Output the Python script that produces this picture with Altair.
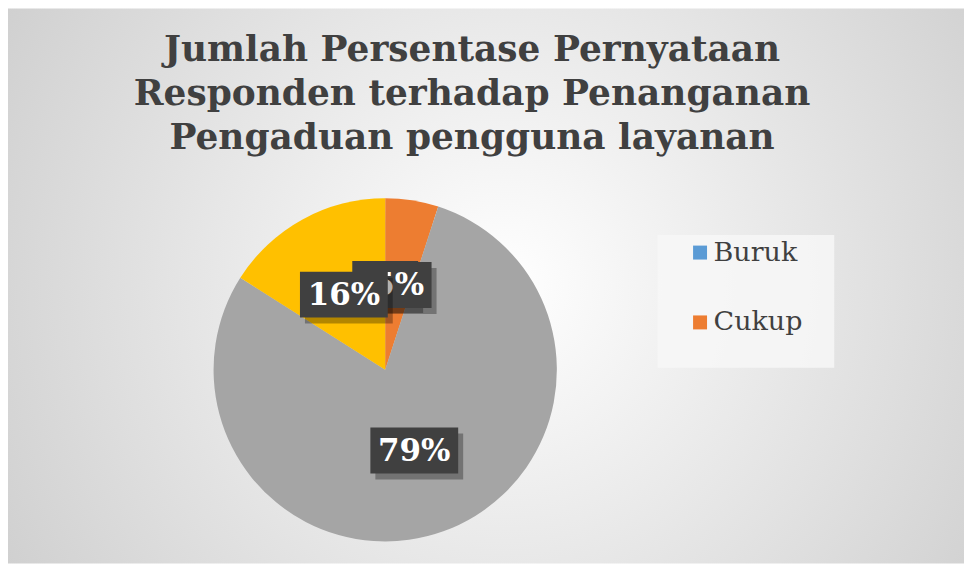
import math
import altair as alt
import pandas as pd

CATEGORIES = ["Buruk", "Cukup", "Baik", "Sangat Baik"]
VALUES = [0, 5, 79, 16]
LABELS = ["0%", "5%", "79%", "16%"]
COLORS = ["#5B9BD5", "#ED7D31", "#A5A5A5", "#FFC000"]
LEGEND_SHOWN = ["Buruk", "Cukup"]
TITLE_LINES = [
    "Jumlah Persentase Pernyataan",
    "Responden terhadap Penanganan",
    "Pengaduan pengguna layanan",
]

W, H = 958, 556
CX, CY, R, LR = 378, 362, 172, 86
SERIF = "DejaVu Serif"

df = pd.DataFrame({
    "idx": list(range(len(CATEGORIES))),
    "cat": CATEGORIES,
    "val": VALUES,
    "label": LABELS,
})
one = pd.DataFrame({"a": [1]})

bg_grad = alt.Gradient(
    gradient="radial",
    stops=[alt.GradientStop(color="#ffffff", offset=0),
           alt.GradientStop(color="#c4c4c4", offset=1)],
    x1=0.52, y1=0.5, r1=0, x2=0.52, y2=0.5, r2=0.75,
)
background = alt.Chart(one).mark_rect(fill=bg_grad).encode(
    x=alt.value(0), x2=alt.value(W), y=alt.value(0), y2=alt.value(H)
)

legend_box = alt.Chart(one).mark_rect(fill="#f7f7f7", opacity=0.85).encode(
    x=alt.value(651), x2=alt.value(828), y=alt.value(227), y2=alt.value(360)
)

shadows = [
    alt.Chart(one).mark_circle(size=math.pi * (R + d) ** 2, color="black",
                               opacity=0.035, stroke=None).encode(
        x=alt.value(CX), y=alt.value(CY + 6)
    )
    for d in (2, 5, 9, 14)
]

pie = alt.Chart(df).mark_arc(radius=R).encode(
    theta=alt.Theta("val:Q", stack=True),
    order=alt.Order("idx:Q"),
    color=alt.Color(
        "cat:N",
        scale=alt.Scale(domain=CATEGORIES, range=COLORS),
        legend=alt.Legend(
            values=LEGEND_SHOWN, orient="none", legendX=680, legendY=231,
            title=None, symbolType="square", symbolSize=196, symbolStrokeWidth=0,
            labelFont=SERIF, labelFontSize=27, labelColor="#404040",
            rowPadding=42, labelOffset=0,
        ),
    ),
    x=alt.value(CX), y=alt.value(CY),
)

base = (
    alt.Chart(df)
    .transform_joinaggregate(total="sum(val)")
    .transform_window(cum="sum(val)", sort=[alt.SortField("idx")], frame=[None, 0])
    .transform_calculate(
        mid="2*PI*(datum.cum - datum.val/2)/datum.total",
        lx=f"{CX} + {LR}*sin(datum.mid)",
        ly=f"{CY} - {LR}*cos(datum.mid)",
        bw="22*length(datum.label) + 22",
    )
    .transform_calculate(
        x1="datum.lx - datum.bw/2", x2="datum.lx + datum.bw/2",
        y1="datum.ly - 23", y2="datum.ly + 23",
        sx1="datum.lx - datum.bw/2 + 5", sx2="datum.lx + datum.bw/2 + 5",
        sy1="datum.ly - 23 + 6", sy2="datum.ly + 23 + 6",
    )
)

label_layers = []
for i in range(len(CATEGORIES)):
    b = base.transform_filter(f"datum.idx == {i}")
    sh = b.mark_rect(color="black", opacity=0.3).encode(
        x=alt.X("sx1:Q", scale=None, axis=None), x2="sx2:Q",
        y=alt.Y("sy1:Q", scale=None, axis=None), y2="sy2:Q",
    )
    box = b.mark_rect(color="#404040").encode(
        x=alt.X("x1:Q", scale=None, axis=None), x2="x2:Q",
        y=alt.Y("y1:Q", scale=None, axis=None), y2="y2:Q",
    )
    txt = b.mark_text(font=SERIF, fontWeight="bold", fontSize=31, color="white",
                      baseline="middle", dy=1).encode(
        x=alt.X("lx:Q", scale=None, axis=None),
        y=alt.Y("ly:Q", scale=None, axis=None),
        text="label:N",
    )
    label_layers += [sh, box, txt]

title = alt.Chart(one).mark_text(
    text=TITLE_LINES, font=SERIF, fontWeight="bold", fontSize=36,
    color="#404040", lineHeight=44, baseline="alphabetic", align="center",
).encode(x=alt.value(465), y=alt.value(53))

chart = alt.layer(
    background, legend_box, *shadows, pie, *label_layers, title
).properties(
    width=W, height=H, padding=0, autosize="none", background="white"
).configure_view(stroke=None)

chart.save("out.html", embed_options={"renderer": "svg", "actions": False})
